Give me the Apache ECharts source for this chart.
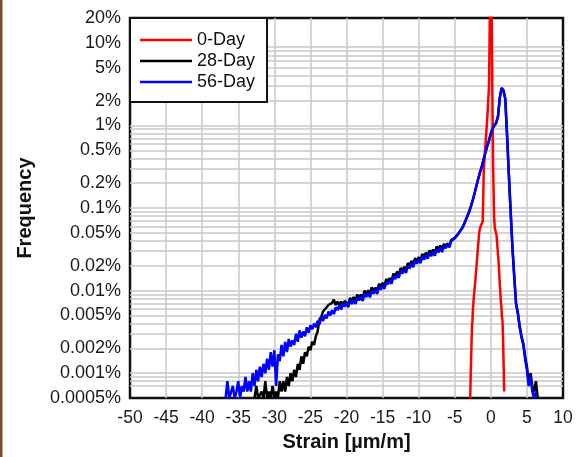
<!DOCTYPE html>
<html>
<head>
<meta charset="utf-8">
<script src="https://cdn.jsdelivr.net/npm/echarts@6/dist/echarts.min.js"></script>
<style>html,body{margin:0;padding:0;background:#fff;}#c{width:586px;height:457px;}</style>
</head>
<body>
<div id="c"></div>
<script>
// Strain grid (µm/m) shared by the 28-Day and 56-Day series, 4 values per unit
const strain = [
  -37,-36.75,-36.5,-36.25, -36,-35.75,-35.5,-35.25, -35,-34.75,-34.5,-34.25, -34,-33.75,-33.5,-33.25,
  -33,-32.75,-32.5,-32.25, -32,-31.75,-31.5,-31.25, -31,-30.75,-30.5,-30.25, -30,-29.75,-29.5,-29.25,
  -29,-28.75,-28.5,-28.25, -28,-27.75,-27.5,-27.25, -27,-26.75,-26.5,-26.25, -26,-25.75,-25.5,-25.25,
  -25,-24.75,-24.5,-24.25, -24,-23.75,-23.5,-23.25, -23,-22.75,-22.5,-22.25, -22,-21.75,-21.5,-21.25,
  -21,-20.75,-20.5,-20.25, -20,-19.75,-19.5,-19.25, -19,-18.75,-18.5,-18.25, -18,-17.75,-17.5,-17.25,
  -17,-16.75,-16.5,-16.25, -16,-15.75,-15.5,-15.25, -15,-14.75,-14.5,-14.25, -14,-13.75,-13.5,-13.25,
  -13,-12.75,-12.5,-12.25, -12,-11.75,-11.5,-11.25, -11,-10.75,-10.5,-10.25, -10,-9.75,-9.5,-9.25,
  -9,-8.75,-8.5,-8.25, -8,-7.75,-7.5,-7.25, -7,-6.75,-6.5,-6.25, -6,-5.75,-5.5,-5.25,
  -5,-4.75,-4.5,-4.25, -4,-3.75,-3.5,-3.25, -3,-2.75,-2.5,-2.25, -2,-1.75,-1.5,-1.25,
  -1,-0.75,-0.5,-0.25, 0,0.25,0.5,0.75, 1,1.25,1.5,1.75, 2,2.25,2.5,2.75,
  3,3.25,3.5,3.75, 4,4.25,4.5,4.75, 5,5.25,5.5,5.75, 6,6.25,6.5,6.75
];
// 56-Day frequency (%)
const day56 = [
  null,0.0005,0.0008,0.0005, 0.0005,0.0007,0.0005,0.0006, 0.0008,0.0005,0.0007,0.0006, 0.0009,0.0006,0.0008,0.0006,
  0.0010,0.0007,0.0011,0.0008, 0.0012,0.0009,0.0013,0.0010, 0.0015,0.0011,0.0018,0.0012, 0.0019,0.0007,0.0017,0.0014,
  0.0022,0.0016,0.0024,0.0018, 0.0026,0.0021,0.0025,0.0022, 0.0030,0.0024,0.0033,0.0027, 0.0032,0.0028,0.0036,0.0031,
  0.0038,0.0034,0.0040,0.0036, 0.0043,0.0039,0.0048,0.0043, 0.0051,0.0046,0.0056,0.0050, 0.0058,0.0052,0.0063,0.0058,
  0.0066,0.0059,0.0070,0.0064, 0.0070,0.0063,0.0077,0.0069, 0.0077,0.0069,0.0083,0.0076, 0.0083,0.0075,0.0092,0.0084,
  0.0093,0.0083,0.0101,0.0092, 0.0101,0.0091,0.0112,0.0103, 0.0114,0.0105,0.0127,0.0120, 0.0132,0.0121,0.0149,0.0138,
  0.0157,0.0143,0.0174,0.0161, 0.0180,0.0164,0.0200,0.0187, 0.0212,0.0192,0.0230,0.0212, 0.0235,0.0215,0.0258,0.0238,
  0.0267,0.0244,0.0285,0.0262, 0.0291,0.0266,0.0319,0.0291, 0.0329,0.0293,0.0348,0.0327, 0.0359,0.0335,0.0395,0.0385,
  0.043,0.0445,0.049,0.0515, 0.056,0.062,0.070,0.080, 0.090,0.105,0.125,0.150, 0.185,0.225,0.27,0.32,
  0.39,0.47,0.56,0.66, 0.80,0.92,1.0,1.08, 1.3,2.2,2.85,2.65, 2.1,0.76,0.25,0.088,
  0.032,0.014,0.0068,0.0052, 0.0036,0.0027,0.0022,0.0015, 0.0011,0.0007,0.0009,0.0006, 0.0005,0.0006,null,null
];
// 28-Day frequency (%)
const day28 = [
  null,null,null,null, null,null,null,null, null,null,null,null, null,null,null,null,
  null,0.0005,0.0007,0.0005, 0.0005,0.0006,0.0005,0.0008, 0.0005,0.0006,0.0005,0.0007, 0.0005,0.0006,0.0005,0.0008,
  0.0006,0.0008,0.0006,0.0009, 0.0007,0.0010,0.0008,0.0011, 0.0009,0.0013,0.0011,0.0016, 0.0013,0.0018,0.0016,0.0021,
  0.0019,0.0024,0.0022,0.0028, 0.0032,0.0045,0.0048,0.0056, 0.0058,0.0063,0.0067,0.0064, 0.0071,0.0078,0.0067,0.0074,
  0.0066,0.0074,0.0067,0.0075, 0.0076,0.0068,0.0082,0.0074, 0.0084,0.0075,0.0090,0.0081, 0.0090,0.0081,0.0100,0.0091,
  0.0101,0.0090,0.0110,0.0099, 0.0109,0.0099,0.0121,0.0112, 0.0124,0.0113,0.0138,0.0129, 0.0142,0.0131,0.0161,0.0149,
  0.0170,0.0155,0.0188,0.0174, 0.0194,0.0177,0.0216,0.0202, 0.0229,0.0208,0.0248,0.0229, 0.0254,0.0232,0.0279,0.0257,
  0.0288,0.0264,0.0308,0.0283, 0.0314,0.0287,0.0343,0.0313, 0.0352,0.0313,0.0368,0.0342, 0.0374,0.0347,0.0410,0.0398,
  0.0435,0.046,0.049,0.053, 0.057,0.063,0.071,0.080, 0.091,0.106,0.126,0.152, 0.186,0.226,0.27,0.32,
  0.39,0.47,0.56,0.66, 0.80,0.92,1.0,1.08, 1.3,2.2,2.85,2.65, 2.1,0.76,0.25,0.09,
  0.033,0.015,0.0070,0.0054, 0.0037,0.0028,0.0023,0.0016, 0.0012,0.0008,0.0010,0.0007, 0.0006,0.0008,0.0005,null
];
// 0-Day series
const strain0 = [-2.86,-2.77,-2.62,-2.55,-2.5,-2.4,-2.3,-2.15,-2.0,-1.85,-1.75,-1.62,-1.5,-1.3,-1.12,-0.97,-0.5,-0.25,-0.12,0,
  0.1,0.2,0.32,0.45,0.55,0.67,0.79,0.9,1.0,1.1,1.2,1.3,1.38,1.45,1.52,1.62,1.7,1.78,1.85];
const day0 = [0.0005,0.0011,0.0035,0.0043,0.0055,0.0075,0.0095,0.013,0.019,0.028,0.036,0.05,0.057,0.059,0.07,0.3,1.2,3,30,60,
  30,3,0.3,0.08,0.057,0.052,0.047,0.035,0.027,0.0205,0.014,0.01,0.0075,0.0065,0.005,0.0043,0.0025,0.0012,0.0006];

const seriesNames = ['0-Day', '28-Day', '56-Day'];
const yLabelValues = [0.0005,0.001,0.002,0.005,0.01,0.02,0.05,0.1,0.2,0.5,1,2,5,10,20];
const yGridValues = [0.0006,0.0007,0.0008,0.0009,
  0.001,0.002,0.003,0.004,0.005,0.006,0.007,0.008,0.009,
  0.01,0.02,0.03,0.04,0.05,0.06,0.07,0.08,0.09,
  0.1,0.2,0.3,0.4,0.5,0.6,0.7,0.8,0.9,
  1,2,3,4,5,6,7,8,9,10];

function pairs(xs, ys) { return xs.map((x, i) => [x, ys[i]]); }

const FONT = 'Arial, "Liberation Sans", sans-serif';
const chart = echarts.init(document.getElementById('c'), null, {renderer: 'canvas'});
chart.setOption({
  animation: false,
  backgroundColor: '#fff',
  graphic: [{type: 'rect', left: 0, top: 0, shape: {width: 2.5, height: 457}, style: {fill: '#7a4a2a'}, silent: true}],
  grid: {left: 130, top: 18, width: 433, height: 383, show: true, borderColor: '#111', borderWidth: 2.5, backgroundColor: '#fff'},
  legend: {
    orient: 'vertical', left: 130, top: 18,
    backgroundColor: '#fff', borderColor: '#111', borderWidth: 2, borderRadius: 0,
    padding: [13, 12, 11, 10], itemWidth: 52, itemHeight: 2.5, itemGap: 3, icon: 'rect',
    textStyle: {fontSize: 18, fontFamily: FONT, color: '#111'},
    data: seriesNames
  },
  xAxis: {
    type: 'value', min: -50, max: 10, interval: 5,
    name: 'Strain [µm/m]', nameLocation: 'middle', nameGap: 33,
    nameTextStyle: {fontSize: 20, fontWeight: 'bold', fontFamily: FONT, color: '#111'},
    axisLine: {show: false}, axisTick: {show: false},
    axisLabel: {fontSize: 17.5, fontFamily: FONT, color: '#1a1a1a', margin: 11},
    splitLine: {show: true, showMinLine: false, showMaxLine: false, lineStyle: {color: '#c8c8c8', width: 1.5}}
  },
  yAxis: {
    type: 'log', logBase: 10, min: 0.0005, max: 20,
    name: 'Frequency', nameLocation: 'middle', nameGap: 95,
    nameTextStyle: {fontSize: 20, fontWeight: 'bold', fontFamily: FONT, color: '#111'},
    axisLine: {show: false},
    axisTick: {show: false, customValues: yGridValues},
    axisLabel: {fontSize: 18, fontFamily: FONT, color: '#1a1a1a', margin: 9, customValues: yLabelValues,
      formatter: v => (+Number(v).toPrecision(6)) + '%'},
    splitLine: {show: true, showMinLine: false, showMaxLine: false, lineStyle: {color: '#c8c8c8', width: 1.5}}
  },
  series: [
    {name: seriesNames[0], type: 'line', data: pairs(strain0, day0), showSymbol: false, symbol: 'none',
      lineStyle: {color: '#ff0000', width: 2.5}, itemStyle: {color: '#ff0000'}, clip: true},
    {name: seriesNames[1], type: 'line', data: pairs(strain, day28), showSymbol: false, symbol: 'none',
      lineStyle: {color: '#000000', width: 2.5}, itemStyle: {color: '#000000'}, clip: true},
    {name: seriesNames[2], type: 'line', data: pairs(strain, day56), showSymbol: false, symbol: 'none',
      lineStyle: {color: '#0000ff', width: 2.5}, itemStyle: {color: '#0000ff'}, clip: true}
  ]
});
</script>
</body>
</html>
